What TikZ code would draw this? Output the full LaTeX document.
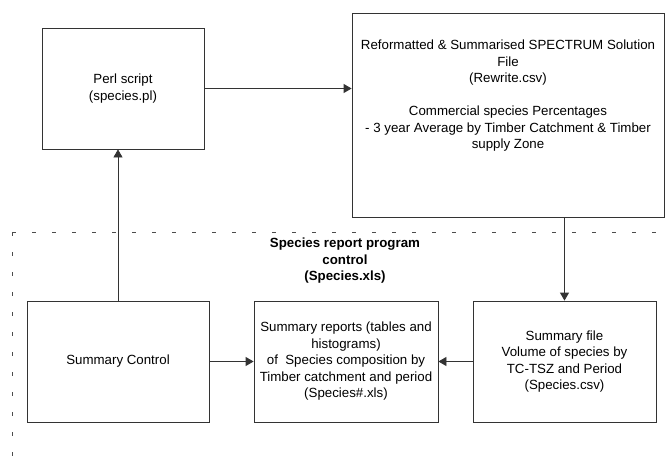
\documentclass[tikz,border=0pt]{standalone}
\usepackage{xcolor}
\usepackage{tikz}
\usepackage{fontspec}
\setmainfont{Liberation Sans}
\usetikzlibrary{arrows.meta}

\begin{document}
\begin{tikzpicture}[x=1pt, y=-1pt]
        % Define styles
        \tikzset{
            process/.style={rectangle, draw=black!80, line width=0.8pt, fill=white, inner sep=0pt, font=\fontsize{13.3}{16.5}\selectfont},
            heading/.style={inner sep=0pt, font=\fontsize{13.3}{16.5}\selectfont\bfseries},
            arrow/.style={-{Triangle[length=8pt, width=9pt]}, draw=black!80, line width=0.8pt},
            frame/.style={draw=black!70, line width=0.8pt, dash pattern=on 4pt off 16pt}
        }

        \useasboundingbox (0,0) rectangle (665,464);

        % Program control frame
        \coordinate (frame_corner) at (12,232);
        \draw[frame] (frame_corner) -- (665,232);
        \draw[frame] (frame_corner) -- (12,464);
        \node[heading] (ctrl_title) at (345,261) {\parbox{200pt}{\centering Species report program\\ control\\ (Species.xls)}};

        % Nodes
        \node[process, minimum width=162pt, minimum height=121pt] (perl_node) at (123,88.5) {\parbox{160pt}{\centering Perl script\\ (species.pl)}};
        \node[process, minimum width=312pt, minimum height=204pt, text depth=90pt] (rewrite_node) at (508,115) {\parbox{310pt}{\centering Reformatted \& Summarised SPECTRUM Solution\\ File\\ (Rewrite.csv)\\[16.5pt] Commercial species Percentages\\ - 3 year Average by Timber Catchment \& Timber\\ supply Zone}};
        \node[process, minimum width=182pt, minimum height=121pt] (sumctrl_node) at (118,361.5) {\parbox{180pt}{\centering Summary Control}};
        \node[process, minimum width=184pt, minimum height=121pt] (reports_node) at (346,361.5) {\parbox{182pt}{\centering Summary reports (tables and\\ histograms)\\ of \ Species composition by\\ Timber catchment and period\\ (Species\#.xls)}};
        \node[process, minimum width=183pt, minimum height=121pt] (sumfile_node) at (564.5,361.5) {\parbox{181pt}{\centering Summary file\\ Volume of species by\\ TC-TSZ and Period\\ (Species.csv)}};

        % Arrows
        \draw[arrow] (perl_node.east) -- (perl_node.east -| rewrite_node.west);
        \draw[arrow] (sumctrl_node.north) -- (sumctrl_node.north |- perl_node.south);
        \draw[arrow] (rewrite_node.south -| sumfile_node.north) -- (sumfile_node.north);
        \draw[arrow] (sumctrl_node) -- (reports_node);
        \draw[arrow] (sumfile_node) -- (reports_node);
    \end{tikzpicture}
\end{document}
